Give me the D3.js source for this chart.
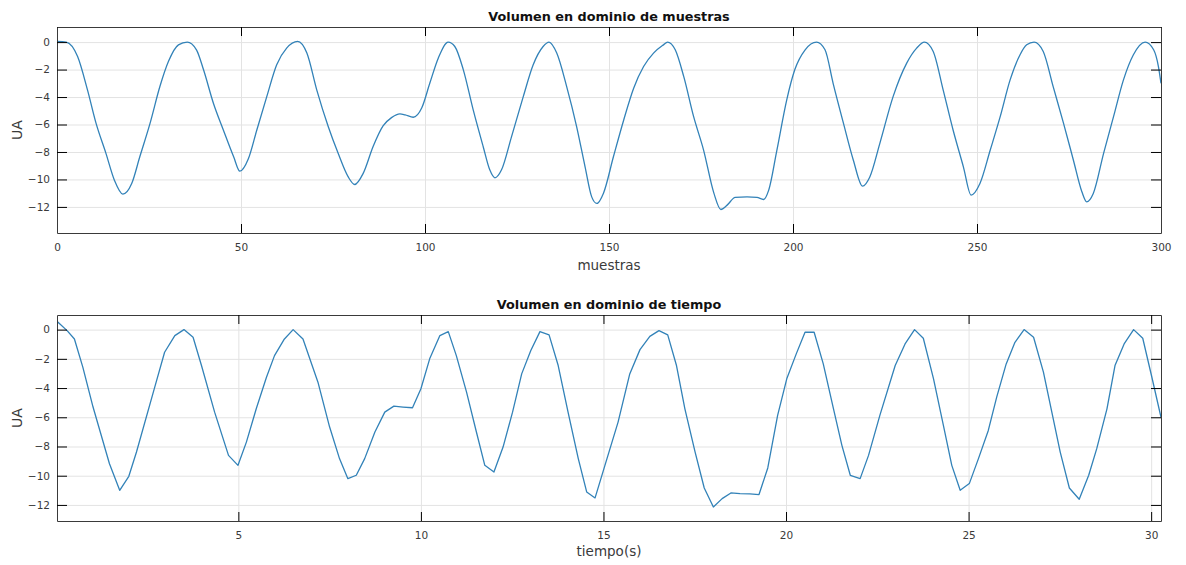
<!DOCTYPE html>
<html>
<head>
<meta charset="utf-8">
<script src="https://cdn.jsdelivr.net/npm/d3@7"></script>
<style>
  body { margin: 0; background: #fff; }
  text { font-family: "DejaVu Sans", sans-serif; }
</style>
</head>
<body>
<div id="chart-area"></div>
<script>
// top panel: volume vs sample index
var muestras = [0, 2.5, 5.6, 8.3, 10.6, 13.3, 15.6, 17.9, 20.3, 22.5, 25.3, 28, 30.3, 33, 35.4,
    37.9, 39.8, 42.5, 45.2, 48, 49.7, 52, 54.3, 57, 59.7, 62.4, 65.4, 67.9, 70.6, 73.7, 76.4,
    79.1, 80.9, 83.2, 85.9, 88.6, 90.9, 93.2, 94.6, 96.8, 99.1, 101.3, 103.6, 106.3, 108.1,
    110.4, 113.1, 115.8, 117.6, 119, 120.8, 123.5, 126.7, 129.4, 132.1, 133.7, 135.8, 138.5,
    141.2, 143.5, 145.3, 146.7, 148.5, 151.2, 154, 156.7, 159.4, 162.1, 164.8, 165.9, 168,
    170.3, 173, 175.7, 178.5, 180.4, 182.1, 184.3, 187.5, 190.2, 192, 193.4, 195.6, 198.3,
    200.5, 203.3, 206.4, 208.7, 210.9, 213.7, 216.4, 218.9, 220.9, 223.6, 227.2, 230.9,
    233.6, 235.7, 238.1, 240.8, 243.5, 246.3, 248.4, 250.8, 253.6, 256.3, 259, 261.7, 263.5,
    265.5, 268, 270.7, 273.5, 276.2, 278.5, 279.8, 281.6, 284.4, 287.1, 289.8, 292.5, 295.7,
    298, 299.3, 300];
var volumenMuestras = [0.05, 0, -1.05, -3.5, -5.9, -8.1, -10.05, -11.07, -10.3, -8.35, -5.9,
    -3.2, -1.4, -0.2, 0, -0.56, -2.0, -4.45, -6.4, -8.35, -9.4, -8.5, -6.4, -3.97, -1.65,
    -0.44, 0.05, -0.8, -3.5, -6.15, -8.1, -9.8, -10.37, -9.56, -7.6, -6.1, -5.5, -5.23, -5.3,
    -5.47, -4.8, -3.0, -1.17, 0, -0.32, -2.0, -4.94, -7.6, -9.3, -9.88, -9.3, -6.9, -3.97,
    -1.65, -0.32, 0, -0.8, -3.24, -6.15, -9.08, -11.27, -11.75, -11.0, -8.35, -5.67, -3.36,
    -1.78, -0.8, -0.2, 0, -0.56, -2.5, -5.43, -7.86, -11.0, -12.19, -11.87, -11.31, -11.27,
    -11.31, -11.46, -10.78, -7.9, -4.2, -2.0, -0.56, 0, -0.56, -3.0, -5.9, -8.6, -10.49, -9.8,
    -7.37, -3.97, -1.53, -0.44, 0, -0.68, -3.48, -6.4, -9.08, -11.14, -10.3, -7.86, -5.43,
    -2.75, -0.92, -0.2, 0, -0.68, -3.24, -5.9, -8.6, -10.9, -11.63, -11.02, -8.1, -5.43,
    -2.75, -0.92, 0, -0.56, -1.78, -3.0];

// bottom panel: volume vs time in seconds
var tiempo = [0.04, 0.31, 0.51, 0.74, 1.02, 1.47, 1.75, 2.0, 2.21, 2.71, 2.98, 3.26, 3.51,
    3.76, 3.99, 4.35, 4.73, 4.99, 5.22, 5.49, 5.77, 5.99, 6.25, 6.5, 6.77, 7.18, 7.5, 7.77,
    8.0, 8.23, 8.46, 8.74, 9.01, 9.26, 9.51, 9.77, 10.0, 10.24, 10.52, 10.75, 10.97, 11.25,
    11.52, 11.75, 12.0, 12.25, 12.51, 12.76, 13.01, 13.26, 13.51, 13.76, 14.03, 14.31, 14.54,
    14.77, 15.04, 15.4, 15.72, 16.0, 16.27, 16.52, 16.76, 17.0, 17.23, 17.51, 17.76, 18.01,
    18.25, 18.49, 18.74, 19.01, 19.26, 19.5, 19.77, 20.02, 20.28, 20.52, 20.77, 21.02, 21.3,
    21.53, 21.76, 22.03, 22.26, 22.57, 22.99, 23.26, 23.52, 23.76, 24.04, 24.31, 24.54,
    24.77, 25.02, 25.27, 25.54, 25.77, 26.03, 26.27, 26.52, 26.78, 27.05, 27.28, 27.51,
    27.76, 28.03, 28.29, 28.51, 28.79, 29.01, 29.26, 29.52, 29.77, 30.02, 30.27];
var volumenTiempo = [0.55, -0.07, -0.64, -2.57, -5.3, -9.18, -11.0, -10.04, -8.38, -3.94,
    -1.55, -0.41, 0, -0.52, -2.46, -5.65, -8.61, -9.29, -7.7, -5.42, -3.26, -1.78, -0.68, 0,
    -0.64, -3.6, -6.67, -8.83, -10.2, -9.97, -8.83, -7.01, -5.65, -5.24, -5.3, -5.35, -4.05,
    -2.0, -0.41, -0.14, -1.78, -4.28, -7.01, -9.29, -9.75, -8.04, -5.65, -3.03, -1.43, -0.14,
    -0.36, -2.46, -5.65, -8.83, -11.11, -11.52, -9.29, -6.33, -3.03, -1.37, -0.46, -0.07,
    -0.36, -2.46, -5.42, -8.38, -10.84, -12.14, -11.57, -11.18, -11.23, -11.25, -11.29,
    -9.47, -5.87, -3.37, -1.66, -0.18, -0.18, -2.35, -5.42, -7.92, -9.97, -10.2, -8.61,
    -5.87, -2.46, -0.98, 0, -0.59, -3.37, -6.56, -9.29, -11.0, -10.54, -8.83, -6.9, -4.62,
    -2.35, -0.87, 0, -0.52, -2.91, -5.65, -8.38, -10.84, -11.61, -9.97, -8.15, -5.42, -2.46,
    -0.98, 0, -0.59, -3.26, -6.0];

var ticksMuestras = [0, 50, 100, 150, 200, 250, 300];
var ticksTiempo = [5, 10, 15, 20, 25, 30];
var ticksUA = [-12, -10, -8, -6, -4, -2, 0];

var W = 1186, H = 565;
var lineColor = "#3282b8";

var svg = d3.select("#chart-area")
    .append("svg")
        .attr("width", W)
        .attr("height", H);

function drawPanel(opts) {
    var left = 57, width = 1104, height = 206;
    var g = svg.append("g")
        .attr("transform", "translate(" + left + ", " + opts.top + ")");

    var x = d3.scaleLinear().domain(opts.xDomain).range([0, width]);
    var y = d3.scaleLinear().domain(opts.yDomain).range([height, 0]);

    // grid
    g.append("g")
        .attr("transform", "translate(0, " + height + ")")
        .call(d3.axisBottom(x).tickValues(opts.xTicks).tickSize(-height).tickFormat(""))
        .call(function(s) { s.select(".domain").remove(); })
        .selectAll("line").attr("stroke", "#e3e3e3");
    g.append("g")
        .call(d3.axisLeft(y).tickValues(ticksUA).tickSize(-width).tickFormat(""))
        .call(function(s) { s.select(".domain").remove(); })
        .selectAll("line").attr("stroke", "#e3e3e3");

    // line
    var clipId = "clip-" + opts.id;
    g.append("clipPath").attr("id", clipId)
        .append("rect").attr("width", width).attr("height", height);

    var data = opts.xs.map(function(d, i) { return [d, opts.ys[i]]; });
    g.append("path")
        .datum(data)
        .attr("clip-path", "url(#" + clipId + ")")
        .attr("fill", "none")
        .attr("stroke", lineColor)
        .attr("stroke-width", 1.3)
        .attr("stroke-linejoin", "round")
        .attr("d", d3.line()
            .x(function(d) { return x(d[0]); })
            .y(function(d) { return y(d[1]); })
            .curve(opts.curve));

    // axes, ticks pointing inward on all four sides
    var xAxis = g.append("g")
        .attr("transform", "translate(0, " + height + ")")
        .call(d3.axisBottom(x).tickValues(opts.xTicks).tickSize(-9).tickSizeOuter(0).tickPadding(11));
    g.append("g")
        .call(d3.axisTop(x).tickValues(opts.xTicks).tickSize(-9).tickSizeOuter(0).tickFormat(""));
    var yAxis = g.append("g")
        .call(d3.axisLeft(y).tickValues(ticksUA).tickSize(-10).tickSizeOuter(0).tickPadding(7));
    g.append("g")
        .attr("transform", "translate(" + width + ", 0)")
        .call(d3.axisRight(y).tickValues(ticksUA).tickSize(-10).tickSizeOuter(0).tickFormat(""));

    g.selectAll(".domain").attr("stroke", "#3a3a3a");
    [xAxis, yAxis].forEach(function(a) {
        a.selectAll("text")
            .attr("font-family", "DejaVu Sans, sans-serif")
            .attr("font-size", "10.5px")
            .attr("fill", "#3a3a3a");
    });

    g.append("text")
        .attr("x", width / 2)
        .attr("y", -6)
        .attr("text-anchor", "middle")
        .attr("font-size", "12.8px")
        .attr("font-weight", "bold")
        .attr("fill", "#111")
        .text(opts.title);

    g.append("text")
        .attr("x", width / 2)
        .attr("y", height + opts.xLabelGap)
        .attr("text-anchor", "middle")
        .attr("font-size", "13.5px")
        .attr("fill", "#3a3a3a")
        .text(opts.xLabel);

    g.append("text")
        .attr("x", -(height / 2))
        .attr("y", -35)
        .attr("text-anchor", "middle")
        .attr("font-size", "14px")
        .attr("fill", "#3a3a3a")
        .attr("transform", "rotate(-90)")
        .text("UA");
}

drawPanel({
    id: "muestras", top: 27,
    xs: muestras, ys: volumenMuestras,
    xDomain: [0, 300], yDomain: [-13.9, 1.1],
    xTicks: ticksMuestras,
    curve: d3.curveMonotoneX,
    title: "Volumen en dominio de muestras",
    xLabel: "muestras", xLabelGap: 37
});

drawPanel({
    id: "tiempo", top: 315,
    xs: tiempo, ys: volumenTiempo,
    xDomain: [0.033, 30.27], yDomain: [-13.1, 1.0],
    xTicks: ticksTiempo,
    curve: d3.curveLinear,
    title: "Volumen en dominio de tiempo",
    xLabel: "tiempo(s)", xLabelGap: 35
});
</script>
</body>
</html>
